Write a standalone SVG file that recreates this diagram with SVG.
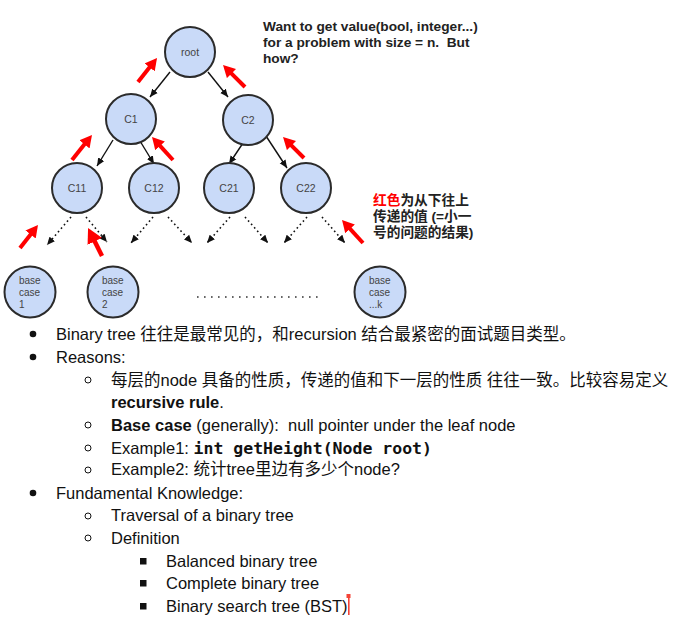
<svg xmlns="http://www.w3.org/2000/svg" width="680" height="621" viewBox="0 0 680 621">
<style>
text{white-space:pre}
.node circle{fill:#c9daf8;stroke:#2b2b2b;stroke-width:2}
.lbl{font-family:"Liberation Sans","Noto Sans CJK SC",sans-serif;font-size:10.5px;fill:#444;text-anchor:middle}
.blbl{font-family:"Liberation Sans","Noto Sans CJK SC",sans-serif;font-size:10px;fill:#444}
.solid{stroke:#111;stroke-width:1.4;fill:none;marker-end:url(#bh)}
.dot{stroke:#111;stroke-width:1.6;fill:none;stroke-dasharray:1.6 3;marker-end:url(#bh)}
.red{stroke:#ff0000;stroke-width:4;fill:none;marker-end:url(#rh)}
.note{font-family:"Liberation Sans","Noto Sans CJK SC",sans-serif;font-size:13.7px;font-weight:bold;fill:#222}
.t{font-family:"Liberation Sans","Noto Sans CJK SC",sans-serif;font-size:16.5px;fill:#111}
.b{font-weight:bold}
.mono{font-family:"DejaVu Sans Mono","Liberation Mono",monospace;font-weight:bold}
</style>
<defs>
<marker id="bh" markerUnits="userSpaceOnUse" markerWidth="9" markerHeight="8" refX="8" refY="4" orient="auto"><path d="M0,0.5 L8,4 L0,7.5 z" fill="#111"/></marker>
<marker id="rh" markerUnits="userSpaceOnUse" markerWidth="13" markerHeight="13" refX="1" refY="6.5" orient="auto"><path d="M0,0 L12,6.5 L0,13 z" fill="#ff0000"/></marker>
<marker id="rhL" markerUnits="userSpaceOnUse" markerWidth="16" markerHeight="16" refX="1" refY="8" orient="auto"><path d="M0,0 L15,8 L0,16 z" fill="#ff0000"/></marker>
</defs>
<rect width="680" height="621" fill="#fff"/>

<g id="connectors">
<line class="solid" x1="170" y1="72" x2="150" y2="97"/>
<line class="solid" x1="208" y1="72" x2="228" y2="97"/>
<line class="solid" x1="113" y1="140" x2="97" y2="166"/>
<line class="solid" x1="140" y1="141" x2="154" y2="164"/>
<line class="solid" x1="243" y1="143" x2="229" y2="164"/>
<line class="solid" x1="266" y1="136" x2="287" y2="168"/>
<line class="dot" x1="71" y1="217" x2="47" y2="245"/>
<line class="dot" x1="86" y1="217" x2="107" y2="242"/>
<line class="dot" x1="153" y1="217" x2="131" y2="243"/>
<line class="dot" x1="168" y1="217" x2="192" y2="243"/>
<line class="dot" x1="230" y1="217" x2="207" y2="243"/>
<line class="dot" x1="245" y1="217" x2="268" y2="243"/>
<line class="dot" x1="307" y1="217" x2="284" y2="243"/>
<line class="dot" x1="322" y1="217" x2="345" y2="243"/>
<line x1="197" y1="297" x2="318" y2="297" stroke="#333" stroke-width="1.6" stroke-dasharray="1.6 5.4"/>
<line class="red" x1="138" y1="82" x2="150.2" y2="66.6"/>
<line class="red" x1="245" y1="87" x2="230.8" y2="72.8"/>
<line class="red" x1="72" y1="160" x2="85.1" y2="143.6"/>
<line class="red" x1="173" y1="160" x2="159.4" y2="145.1"/>
<line class="red" x1="304" y1="158" x2="290.8" y2="144.8"/>
<line class="red" x1="20" y1="248" x2="31.2" y2="233.7"/>
<line x1="102" y1="256" x2="94.3" y2="240.5" stroke="#ff0000" stroke-width="4.5" marker-end="url(#rhL)"/>
<line class="red" x1="363" y1="243" x2="349.4" y2="228.1"/>
</g>

<g id="root" class="node"><circle cx="190" cy="52" r="25"/><text class="lbl" x="190" y="56">root</text></g>
<g id="C1" class="node"><circle cx="131" cy="119" r="25"/><text class="lbl" x="131" y="123">C1</text></g>
<g id="C2" class="node"><circle cx="248" cy="120" r="25"/><text class="lbl" x="248" y="124">C2</text></g>
<g id="C11" class="node"><circle cx="77" cy="188" r="25"/><text class="lbl" x="77" y="192">C11</text></g>
<g id="C12" class="node"><circle cx="154" cy="188" r="25"/><text class="lbl" x="154" y="192">C12</text></g>
<g id="C21" class="node"><circle cx="229" cy="188" r="25"/><text class="lbl" x="229" y="192">C21</text></g>
<g id="C22" class="node"><circle cx="306" cy="188" r="25"/><text class="lbl" x="306" y="192">C22</text></g>
<g id="base1" class="node"><circle cx="30" cy="292" r="25.5"/><text class="blbl"><tspan x="19" y="284">base</tspan><tspan x="19" y="296">case</tspan><tspan x="19" y="308">1</tspan></text></g>
<g id="base2" class="node"><circle cx="113" cy="292" r="25.5"/><text class="blbl"><tspan x="102" y="284">base</tspan><tspan x="102" y="296">case</tspan><tspan x="102" y="308">2</tspan></text></g>
<g id="basek" class="node"><circle cx="380" cy="292" r="25.5"/><text class="blbl"><tspan x="369" y="284">base</tspan><tspan x="369" y="296">case</tspan><tspan x="369" y="308">...k</tspan></text></g>

<g id="question">
<text class="note" x="263" y="31">Want to get value(bool, integer...)</text>
<text class="note" x="263" y="47">for a problem with size = n.  But</text>
<text class="note" x="263" y="63">how?</text>
</g>
<g id="legend">
<text class="note" x="373" y="205"><tspan fill="#ff0000">红色</tspan>为从下往上</text>
<text class="note" x="373" y="221">传递的值 (=小一</text>
<text class="note" x="373" y="237">号的问题的结果)</text>
</g>

<g id="list">
<circle cx="33" cy="334" r="3.3" fill="#111"/>
<text class="t" x="56" y="340">Binary tree 往往是最常见的，和recursion 结合最紧密的面试题目类型。</text>
<circle cx="33" cy="357" r="3.3" fill="#111"/>
<text class="t" x="56" y="362.5">Reasons:</text>
<circle cx="88" cy="380" r="3" fill="none" stroke="#111" stroke-width="1"/>
<text class="t" x="111" y="385.5">每层的node 具备的性质，传递的值和下一层的性质 往往一致。比较容易定义</text>
<text class="t" x="111" y="408"><tspan class="b">recursive rule</tspan>.</text>
<circle cx="88" cy="425" r="3" fill="none" stroke="#111" stroke-width="1"/>
<text class="t" x="111" y="430.5"><tspan class="b">Base case</tspan> (generally):  null pointer under the leaf node</text>
<circle cx="88" cy="448" r="3" fill="none" stroke="#111" stroke-width="1"/>
<text class="t" x="111" y="453.5">Example1: <tspan class="mono">int getHeight(Node root)</tspan></text>
<circle cx="88" cy="470" r="3" fill="none" stroke="#111" stroke-width="1"/>
<text class="t" x="111" y="475">Example2: 统计tree里边有多少个node?</text>
<circle cx="33" cy="493" r="3.3" fill="#111"/>
<text class="t" x="56" y="499">Fundamental Knowledge:</text>
<circle cx="88" cy="516" r="3" fill="none" stroke="#111" stroke-width="1"/>
<text class="t" x="111" y="521">Traversal of a binary tree</text>
<circle cx="88" cy="538" r="3" fill="none" stroke="#111" stroke-width="1"/>
<text class="t" x="111" y="544">Definition</text>
<rect x="140" y="558" width="6.5" height="6.5" fill="#111"/>
<text class="t" x="166" y="566.5">Balanced binary tree</text>
<rect x="140" y="580" width="6.5" height="6.5" fill="#111"/>
<text class="t" x="166" y="589">Complete binary tree</text>
<rect x="140" y="603" width="6.5" height="6.5" fill="#111"/>
<text class="t" x="166" y="611.5">Binary search tree (BST)</text>
<rect x="346.5" y="594" width="4" height="4" fill="#f44336"/>
<rect x="348" y="594" width="1.6" height="21" fill="#f44336"/>
</g>
</svg>
